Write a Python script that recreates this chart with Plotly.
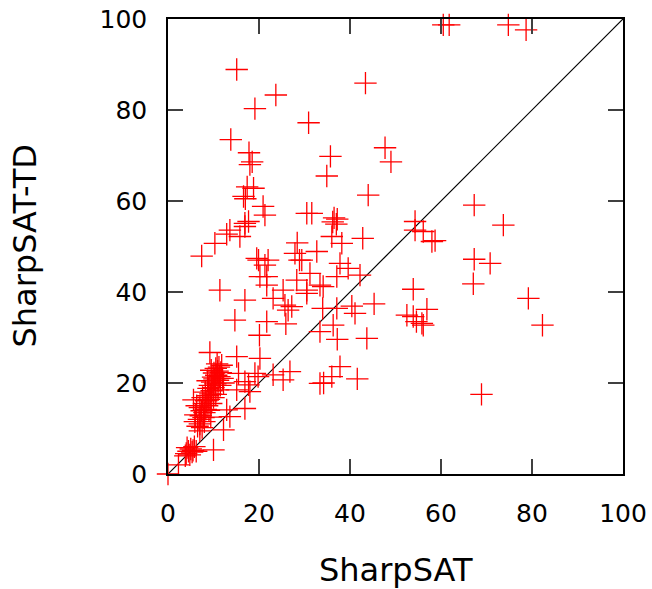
import plotly.graph_objects as go

# SharpSAT (x) vs SharpSAT-TD (y)
sharpsat = [
    15.1, 43.4, 23.7, 19.1, 30.9, 13.8, 17.8, 18.5, 18.0, 35.7, 34.9, 47.7, 49.0, 17.4, 18.8,
    16.6, 17.0, 20.9, 21.3, 30.5, 17.7, 16.9, 16.9, 13.6, 12.9, 15.8, 10.3, 7.4, 28.4, 27.9,
    28.9, 19.5, 19.9, 22.0, 21.3, 20.2, 21.7, 21.7, 28.3, 30.5, 11.4, 25.3, 23.1, 16.9, 25.7,
    27.2, 26.4, 14.7, 21.7, 25.9, 20.1,
    44.0, 67.3, 31.6, 36.5, 37.2, 36.2, 37.0, 36.0, 38.2, 42.8, 54.3, 54.3, 56.1, 58.0, 58.7,
    32.7, 29.4, 37.8, 39.6, 42.2, 31.2, 37.1, 33.4, 34.1, 30.5, 67.3, 70.8, 67.1, 53.9, 34.0,
    37.1, 40.4, 41.1, 45.3, 36.3, 33.4, 37.2, 43.7, 52.5, 53.9, 56.9, 54.6, 55.8, 56.1, 37.8,
    36.0, 33.4, 34.2, 41.6, 68.9,
    60.5, 61.8, 74.8, 78.7, 73.7, 79.2, 82.3,
    9.2, 15.1, 20.2, 15.5, 19.1, 19.8, 23.1, 26.8, 25.3, 16.9, 17.7, 15.1, 18.0, 12.9, 16.9,
    13.6, 12.2, 10.0, 2.3, 0.0,
    6.5, 7.0, 7.5, 6.8, 7.2, 7.8, 8.0, 7.4, 8.3, 7.0, 8.6, 7.9, 8.4, 9.0, 7.6, 8.8, 9.3, 8.2,
    9.6, 8.9, 10.0, 9.2, 10.4, 9.7, 8.7, 10.2, 11.0, 9.9, 10.6, 11.3, 10.1, 10.9, 11.6, 10.5,
    11.2, 11.8, 9.5, 10.8, 12.0, 11.5, 12.2, 9.0, 9.5, 10.0, 10.5, 11.0, 6.0, 6.3, 5.6, 5.9,
    7.0, 8.0, 9.4,
    4.0, 4.5, 5.0, 5.5, 4.2, 5.8, 6.2, 4.8, 3.8, 5.3,
]
sharpsat_td = [
    88.9, 85.9, 83.3, 80.3, 77.2, 73.5, 70.6, 68.6, 68.0, 69.8, 65.5, 71.7, 68.6, 63.1, 62.8,
    61.0, 60.5, 58.8, 56.9, 57.3, 55.5, 55.1, 54.4, 53.6, 52.7, 52.2, 50.7, 47.9, 50.8, 48.5,
    47.0, 47.4, 47.0, 47.0, 45.9, 43.4, 43.4, 41.5, 42.6, 40.4, 40.4, 40.4, 38.6, 38.2, 37.1,
    36.8, 36.0, 33.8, 33.5, 33.0, 30.5,
    61.3, 59.1, 57.3, 56.3, 56.0, 55.4, 54.9, 52.2, 50.7, 51.8, 55.5, 53.6, 53.3, 51.1, 51.3,
    48.9, 47.0, 46.3, 45.2, 43.7, 44.1, 43.4, 41.5, 41.2, 39.7, 47.2, 46.3, 41.8, 40.6, 36.4,
    36.4, 36.9, 35.3, 37.4, 32.7, 31.3, 29.6, 29.8, 34.9, 34.6, 36.2, 33.5, 33.1, 32.7, 23.6,
    21.4, 19.9, 20.0, 20.9, 17.5,
    98.7, 98.7, 98.7, 97.6, 54.7, 38.6, 32.7,
    26.7, 25.8, 25.4, 22.1, 22.1, 21.4, 21.8, 22.5, 20.7, 20.3, 19.6, 18.5, 18.1, 14.1, 14.4,
    12.6, 9.7, 5.3, 2.0, 0.0,
    10.5, 11.0, 10.2, 12.0, 12.8, 12.4, 13.5, 13.9, 14.2, 14.6, 15.0, 15.5, 16.1, 16.4, 16.8,
    17.2, 17.6, 18.0, 18.3, 18.8, 19.0, 19.5, 19.8, 20.2, 20.5, 20.9, 20.6, 21.3, 21.7, 21.4,
    22.2, 22.6, 22.3, 23.2, 23.5, 23.9, 22.8, 24.2, 21.0, 19.5, 20.0, 14.0, 15.5, 16.8, 17.5,
    18.5, 13.0, 15.0, 16.3, 11.5, 9.5, 11.5, 12.5,
    4.5, 5.0, 5.5, 5.2, 5.8, 6.0, 5.0, 4.2, 4.0, 4.8,
]

diag_x = [0, 100]
diag_y = [0, 100]
tick_vals = [0, 20, 40, 60, 80, 100]
tick_text = ["0", "20", "40", "60", "80", "100"]

FONT = "DejaVu Sans"

fig = go.Figure()
fig.add_trace(go.Scatter(
    x=diag_x, y=diag_y, mode="lines",
    line=dict(color="black", width=1.2), hoverinfo="skip", showlegend=False,
))
fig.add_trace(go.Scatter(
    x=sharpsat, y=sharpsat_td, mode="markers",
    marker=dict(symbol="cross-thin", size=16, color="#ff0000",
                line=dict(color="#ff0000", width=1.3)),
    cliponaxis=False, showlegend=False,
))

axis_common = dict(
    range=[0, 100], tickvals=tick_vals, ticktext=tick_text,
    ticks="inside", ticklen=15, tickwidth=1.5, tickcolor="#404040",
    showline=True, linecolor="black", linewidth=1.5, mirror="ticks",
    showgrid=False, zeroline=False, automargin=False,
    tickfont=dict(family=FONT, size=25, color="black"),
)

fig.update_layout(
    width=652, height=589,
    margin=dict(l=168, r=29, t=19, b=115, autoexpand=False),
    paper_bgcolor="white", plot_bgcolor="white",
    xaxis=dict(**axis_common, ticklabelstandoff=16),
    yaxis=dict(**axis_common, ticklabelstandoff=14),
    annotations=[
        dict(text="SharpSAT", xref="paper", yref="paper", x=0.5, y=0,
             xanchor="center", yanchor="middle", yshift=-96, showarrow=False,
             font=dict(family=FONT, size=32, color="black")),
        dict(text="SharpSAT-TD", xref="paper", yref="paper", x=0, y=0.5,
             xanchor="center", yanchor="middle", xshift=-144, textangle=-90,
             showarrow=False, font=dict(family=FONT, size=32, color="black")),
    ],
)

fig.write_html(
    "out.html",
    config={"displayModeBar": False},
    post_script="document.body.style.margin='0';document.body.style.overflow='hidden';",
)
